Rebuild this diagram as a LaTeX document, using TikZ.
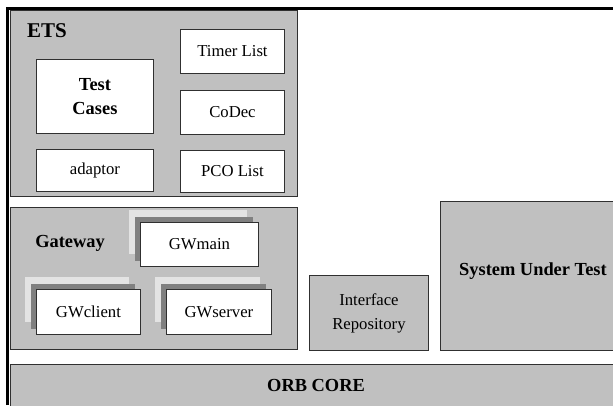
\documentclass[tikz,border=0pt]{standalone}
\usepackage{fontspec}
\setmainfont{Liberation Serif}
\usetikzlibrary{positioning,shadows}
\definecolor{panelgray}{HTML}{C0C0C0}
\definecolor{shdark}{HTML}{808080}
\definecolor{shlight}{HTML}{E3E3E3}
\definecolor{edge}{HTML}{303030}
\tikzstyle{panel}=[rectangle, draw=edge, fill=panelgray, line width=0.9pt, anchor=north west, inner sep=0pt]
\tikzstyle{part}=[rectangle, draw=edge, fill=white, line width=0.9pt, anchor=north west, text centered, inner sep=0pt, font=\fontsize{16.7}{24}\selectfont]
\tikzstyle{gwpart}=[part, general shadow={fill=shlight, shadow xshift=-11pt, shadow yshift=12pt}, general shadow={fill=shdark, shadow xshift=-5pt, shadow yshift=5pt}]
\tikzstyle{title}=[font=\fontsize{18.4}{24}\selectfont\bfseries, inner sep=0pt]

\begin{document}
\begin{tikzpicture}[
        x=1pt, y=1pt,
        node distance = 15pt,
      ]
      \useasboundingbox (0,0) rectangle (613,-405);
      % ORB layer at the bottom
      \node (ORB) [panel, minimum width=615pt, minimum height=60pt] at (10,-364) {};
      \node (ORBtext) [title] at (316,-385) {ORB CORE};
      % executable test suite
      \node (ETS) [panel, minimum width=287pt, minimum height=186pt] at (10,-10) {};
      \node (ETStext) [title, font=\fontsize{21}{24}\selectfont\bfseries] at (47,-31) {ETS};
      \node (Timer) [part, minimum width=104pt, minimum height=44pt] at (180,-29) {Timer List};
      \node (CoDec) [part, minimum width=104pt, minimum height=44pt, below=16pt of Timer.south west, anchor=north west] {CoDec};
      \node (PCO) [part, minimum width=104pt, minimum height=42pt, below=of CoDec.south west, anchor=north west] {PCO List};
      \node (Cases) [part, minimum width=117pt, minimum height=74pt, align=center, font=\fontsize{18.4}{24}\selectfont\bfseries] at (36,-59) {Test\\Cases};
      \node (Adaptor) [part, minimum width=117pt, minimum height=42pt, below=of Cases.south west, anchor=north west] {adaptor};
      % gateway
      \node (Gateway) [panel, minimum width=287pt, minimum height=142pt] at (10,-207) {};
      \node (GWtext) [title] at (70,-243) {Gateway};
      \node (GWmain) [gwpart, minimum width=118pt, minimum height=44pt] at (140,-222) {GWmain};
      \node (GWclient) [gwpart, minimum width=104pt, minimum height=45pt] at (36,-289) {GWclient};
      \node (GWserver) [gwpart, minimum width=105pt, minimum height=45pt] at (166,-289) {GWserver};
      % the other parts
      \node (IR) [panel, minimum width=119pt, minimum height=75pt, align=center, font=\fontsize{16.7}{24}\selectfont] at (309,-275) {Interface\\Repository};
      \node (SUT) [panel, minimum width=185pt, minimum height=149pt] at (440,-201) {};
      \node (SUTtext) [title] at ([yshift=5pt]SUT.center) {System Under Test};
      % outer frame
      \draw [line width=3pt] (7,-405) -- (7,-8.5) -- (613,-8.5);
    \end{tikzpicture}
\end{document}
